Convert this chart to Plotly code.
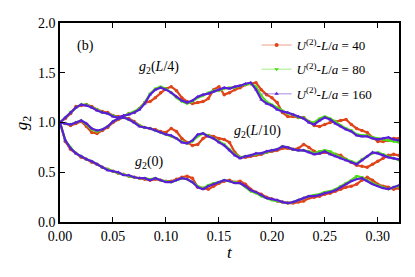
import numpy as np
import plotly.graph_objects as go

# time grid (t axis)
T = np.round(np.arange(0, 0.3201, 0.005), 3)

# g2(L/4) curves
L4_40 = [1.00, 1.04, 1.09, 1.16, 1.17, 1.18, 1.16, 1.13, 1.11, 1.10, 1.07, 1.06, 1.06, 1.09, 1.10, 1.14,
         1.20, 1.21, 1.25, 1.30, 1.34, 1.36, 1.32, 1.25, 1.21, 1.19, 1.20, 1.21, 1.24, 1.33, 1.36, 1.28,
         1.30, 1.33, 1.35, 1.38, 1.39, 1.40, 1.33, 1.28, 1.25, 1.20, 1.10, 1.06, 1.06, 1.05, 1.05, 1.01,
         0.97, 0.96, 0.98, 1.00, 1.01, 1.02, 1.03, 0.98, 0.94, 0.92, 0.90, 0.85, 0.81, 0.81, 0.82, 0.84, 0.84]
L4_80 = [1.00, 1.05, 1.11, 1.15, 1.18, 1.18, 1.15, 1.13, 1.10, 1.09, 1.07, 1.05, 1.06, 1.09, 1.11, 1.14,
         1.20, 1.29, 1.34, 1.36, 1.34, 1.30, 1.25, 1.21, 1.19, 1.21, 1.25, 1.27, 1.30, 1.32, 1.32, 1.34,
         1.35, 1.35, 1.37, 1.38, 1.39, 1.36, 1.27, 1.21, 1.18, 1.15, 1.12, 1.09, 1.08, 1.05, 1.05, 1.01,
         1.00, 1.04, 1.06, 1.04, 1.01, 0.97, 0.94, 0.92, 0.88, 0.87, 0.87, 0.85, 0.84, 0.83, 0.82, 0.81, 0.80]
L4_160 = [1.00, 1.05, 1.10, 1.15, 1.18, 1.17, 1.15, 1.12, 1.10, 1.09, 1.06, 1.05, 1.07, 1.08, 1.10, 1.13,
          1.19, 1.28, 1.33, 1.35, 1.33, 1.30, 1.26, 1.22, 1.20, 1.22, 1.26, 1.28, 1.29, 1.31, 1.33, 1.35,
          1.34, 1.36, 1.37, 1.39, 1.40, 1.33, 1.23, 1.19, 1.17, 1.13, 1.11, 1.10, 1.08, 1.06, 1.04, 1.00,
          0.98, 1.02, 1.05, 1.03, 0.99, 0.96, 0.93, 0.91, 0.87, 0.86, 0.86, 0.84, 0.83, 0.84, 0.85, 0.83, 0.82]

# g2(L/10) curves
L10_40 = [1.00, 0.99, 0.97, 0.99, 1.01, 0.96, 0.90, 0.89, 0.92, 0.95, 1.00, 1.03, 1.05, 1.04, 1.01, 0.97,
          0.95, 0.94, 0.93, 0.91, 0.90, 0.94, 0.91, 0.84, 0.80, 0.77, 0.78, 0.84, 0.87, 0.86, 0.84, 0.83,
          0.80, 0.70, 0.65, 0.65, 0.66, 0.67, 0.68, 0.70, 0.71, 0.72, 0.74, 0.74, 0.73, 0.74, 0.78, 0.75,
          0.71, 0.69, 0.70, 0.69, 0.68, 0.67, 0.63, 0.60, 0.57, 0.56, 0.55, 0.58, 0.61, 0.64, 0.67, 0.68, 0.67]
L10_80 = [1.00, 0.99, 0.98, 1.00, 1.02, 0.98, 0.93, 0.91, 0.93, 0.96, 1.01, 1.04, 1.05, 1.03, 1.00, 0.97,
          0.95, 0.94, 0.92, 0.90, 0.88, 0.86, 0.84, 0.81, 0.79, 0.81, 0.86, 0.89, 0.87, 0.84, 0.81, 0.78,
          0.73, 0.68, 0.65, 0.66, 0.67, 0.68, 0.69, 0.70, 0.72, 0.73, 0.76, 0.75, 0.73, 0.72, 0.72, 0.71,
          0.69, 0.71, 0.72, 0.71, 0.68, 0.65, 0.63, 0.61, 0.59, 0.63, 0.66, 0.69, 0.70, 0.68, 0.66, 0.64, 0.62]
L10_160 = [1.00, 0.99, 0.98, 1.00, 1.02, 0.99, 0.94, 0.92, 0.93, 0.96, 1.01, 1.04, 1.05, 1.03, 1.00, 0.96,
           0.95, 0.94, 0.92, 0.90, 0.88, 0.87, 0.84, 0.80, 0.79, 0.82, 0.88, 0.89, 0.86, 0.84, 0.80, 0.77,
           0.72, 0.67, 0.64, 0.66, 0.67, 0.69, 0.69, 0.71, 0.72, 0.73, 0.76, 0.75, 0.73, 0.72, 0.72, 0.70,
           0.68, 0.69, 0.71, 0.68, 0.66, 0.64, 0.62, 0.60, 0.58, 0.62, 0.66, 0.70, 0.69, 0.67, 0.65, 0.64, 0.63]

# g2(0) curves
G0_40 = [1.00, 0.81, 0.73, 0.69, 0.65, 0.63, 0.60, 0.58, 0.55, 0.53, 0.51, 0.49, 0.48, 0.46, 0.45, 0.44,
         0.43, 0.42, 0.43, 0.42, 0.41, 0.41, 0.43, 0.45, 0.46, 0.44, 0.35, 0.34, 0.33, 0.36, 0.39, 0.41,
         0.42, 0.40, 0.41, 0.38, 0.33, 0.30, 0.28, 0.25, 0.23, 0.21, 0.20, 0.19, 0.19, 0.20, 0.21, 0.24,
         0.25, 0.26, 0.28, 0.29, 0.31, 0.33, 0.35, 0.36, 0.38, 0.42, 0.45, 0.42, 0.38, 0.36, 0.35, 0.33, 0.34]
G0_80 = [1.00, 0.82, 0.75, 0.69, 0.66, 0.63, 0.61, 0.58, 0.55, 0.53, 0.51, 0.49, 0.48, 0.46, 0.45, 0.44,
         0.44, 0.43, 0.44, 0.42, 0.41, 0.40, 0.42, 0.44, 0.43, 0.40, 0.36, 0.34, 0.37, 0.39, 0.40, 0.42,
         0.41, 0.40, 0.39, 0.35, 0.31, 0.29, 0.26, 0.24, 0.22, 0.21, 0.20, 0.19, 0.20, 0.22, 0.24, 0.26,
         0.27, 0.28, 0.30, 0.31, 0.33, 0.36, 0.39, 0.42, 0.46, 0.45, 0.42, 0.39, 0.37, 0.35, 0.33, 0.35, 0.36]
G0_160 = [1.00, 0.82, 0.74, 0.69, 0.66, 0.63, 0.61, 0.58, 0.55, 0.52, 0.51, 0.50, 0.47, 0.47, 0.45, 0.44,
          0.44, 0.42, 0.44, 0.42, 0.40, 0.40, 0.42, 0.44, 0.43, 0.40, 0.35, 0.33, 0.36, 0.38, 0.40, 0.42,
          0.41, 0.39, 0.39, 0.36, 0.32, 0.30, 0.27, 0.24, 0.23, 0.22, 0.20, 0.19, 0.20, 0.22, 0.24, 0.26,
          0.26, 0.27, 0.29, 0.30, 0.32, 0.35, 0.38, 0.41, 0.43, 0.44, 0.41, 0.38, 0.36, 0.34, 0.33, 0.35, 0.37]

SERIES = [
    ("<i>U</i><sup>(2)</sup>-<i>L</i>/<i>a</i> = 40", [L4_40, L10_40, G0_40]),
    ("<i>U</i><sup>(2)</sup>-<i>L</i>/<i>a</i> = 80", [L4_80, L10_80, G0_80]),
    ("<i>U</i><sup>(2)</sup>-<i>L</i>/<i>a</i> = 160", [L4_160, L10_160, G0_160]),
]
COLORS = ["#e0441a", "#4ddd14", "#5a1ed8"]
LIGHT = ["rgba(224,68,26,0.35)", "rgba(77,221,20,0.35)", "rgba(90,30,216,0.35)"]
SYMBOLS = ["circle", "triangle-down", "triangle-up"]

X_TICKS = [0.00, 0.05, 0.10, 0.15, 0.20, 0.25, 0.30]
Y_TICKS = [0.0, 0.5, 1.0, 1.5, 2.0]

FONT = "Liberation Serif"

fig = go.Figure()
for i, ((name, curves), c, lc, sym) in enumerate(zip(SERIES, COLORS, LIGHT, SYMBOLS)):
    for y in curves:
        fig.add_trace(go.Scatter(
            x=T, y=y, mode="lines+markers", showlegend=False,
            line=dict(color=c, width=2.2),
            marker=dict(color=c, size=3.5, symbol=sym, line=dict(width=0)),
        ))
    fig.add_trace(go.Scatter(
        x=[None], y=[None], mode="lines+markers", name=name, legendgroup=f"g{i}",
        line=dict(color=lc, width=1.5),
        marker=dict(color=c, size=4, symbol=sym, line=dict(width=0)),
    ))

ann_font = dict(family=FONT, size=14, color="black")
fig.add_annotation(x=0.024, y=1.77, text="(b)", showarrow=False, font=ann_font)
fig.add_annotation(x=0.093, y=1.55, text="<i>g</i><sub>2</sub>(<i>L</i>/4)", showarrow=False, font=ann_font)
fig.add_annotation(x=0.186, y=0.91, text="<i>g</i><sub>2</sub>(<i>L</i>/10)", showarrow=False, font=ann_font)
fig.add_annotation(x=0.0845, y=0.60, text="<i>g</i><sub>2</sub>(0)", showarrow=False, font=ann_font)

axis_common = dict(
    showline=True, linecolor="black", linewidth=1.6, mirror="ticks",
    ticks="inside", ticklen=5, tickwidth=1, tickcolor="black",
    showgrid=False, zeroline=False, automargin=False,
    tickfont=dict(family=FONT, size=14, color="black"),
)
fig.update_xaxes(range=[0, 0.32], tickvals=X_TICKS, ticktext=[f"{v:.2f}" for v in X_TICKS],
                 **axis_common)
fig.update_yaxes(range=[0, 2.0], tickvals=Y_TICKS, ticktext=[f"{v:.1f}" for v in Y_TICKS],
                 **axis_common)

# axis titles as paper annotations for exact placement
fig.add_annotation(xref="paper", yref="paper", x=0.5, y=-0.155, yanchor="middle",
                   text="<i>t</i>", showarrow=False,
                   font=dict(family=FONT, size=17, color="black"))
fig.add_annotation(xref="paper", yref="paper", x=-0.11, y=0.5, xanchor="center",
                   text="<i>g</i><sub>2</sub>", showarrow=False, textangle=-90,
                   font=dict(family=FONT, size=17, color="black"))

# the page body has an 8px margin, so the figure is sized to fit the window
fig.update_layout(
    width=399, height=261,
    margin=dict(l=52, r=8, t=15, b=47, autoexpand=False),
    paper_bgcolor="white", plot_bgcolor="white",
    legend=dict(x=0.58, y=0.965, xanchor="left", yanchor="top",
                bgcolor="rgba(0,0,0,0)", borderwidth=0,
                font=dict(family=FONT, size=13, color="black"),
                tracegroupgap=4.5, itemsizing="trace"),
    showlegend=True,
)

fig.write_html("out.html")
